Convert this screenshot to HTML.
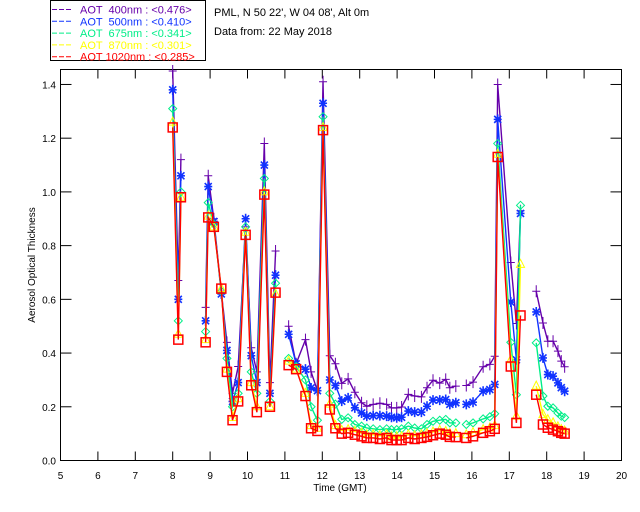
<!DOCTYPE html>
<html><head><meta charset="utf-8"><style>
body{margin:0;background:#fff;}
svg{display:block;font-family:"Liberation Sans",sans-serif;}
</style></head><body>
<svg id="chart" width="640" height="512" viewBox="0 0 640 512">
<rect width="640" height="512" fill="#fff"/>
<g id="legend">
<rect x="50.5" y="0.5" width="155" height="60" fill="#fff" stroke="#000"/>
</g>
<text x="214" y="16" font-size="11" fill="#000">PML, N 50 22', W 04 08', Alt 0m</text>
<text x="214" y="35" font-size="11" fill="#000">Data from: 22 May 2018</text>
<rect x="60.5" y="69.5" width="561" height="391" fill="none" stroke="#000"/>
<g id="axes"></g>
<g id="series"></g>
<text x="340" y="491" font-size="10" text-anchor="middle">Time (GMT)</text>
<text transform="translate(35,265) rotate(-90)" font-size="10" text-anchor="middle">Aerosol Optical Thickness</text>
</svg>
<script>
const times = [8.0,8.15,8.22,null,8.88,8.95,9.1,9.3,9.45,9.6,9.75,9.95,10.1,10.25,10.45,10.6,10.75,null,
11.1,11.3,11.55,11.7,11.87,12.02,12.2,12.35,12.52,12.69,12.87,13.05,13.19,13.36,13.54,13.72,13.85,13.99,14.12,14.30,14.47,14.65,14.80,14.96,15.14,15.30,15.41,15.57,null,
15.85,16.03,16.30,16.48,16.61,16.69,17.04,17.19,17.3,null,17.72,17.90,18.03,18.17,18.30,18.39,18.48];
const aot400 = [1.45,0.67,1.12,null,0.57,1.06,0.90,0.63,0.44,0.25,0.35,0.87,0.42,0.33,1.18,0.29,0.78,null,
0.50,0.36,0.45,0.33,0.26,1.41,0.39,0.36,0.287,0.304,0.254,0.215,0.202,0.209,0.213,0.209,0.196,0.196,0.199,0.246,0.240,0.237,0.271,0.299,0.288,0.302,0.271,0.277,null,
0.279,0.292,0.349,0.358,0.388,1.40,0.737,0.51,0.93,null,0.630,0.512,0.444,0.444,0.407,0.370,0.349];
const aot500 = [1.38,0.60,1.06,null,0.52,1.02,0.89,0.62,0.41,0.22,0.29,0.90,0.39,0.29,1.10,0.25,0.69,null,
0.47,0.36,0.34,0.27,0.26,1.33,0.30,0.28,0.221,0.233,0.196,0.177,0.165,0.167,0.167,0.165,0.161,0.159,0.161,0.184,0.180,0.180,0.202,0.225,0.225,0.227,0.209,0.215,null,
0.209,0.217,0.258,0.264,0.283,1.27,0.59,0.375,0.92,null,0.553,0.382,0.320,0.314,0.289,0.271,0.258];
const aot675 = [1.31,0.52,1.00,null,0.48,0.96,0.88,0.63,0.38,0.20,0.25,0.87,0.33,0.25,1.05,0.22,0.66,null,
0.38,0.35,0.30,0.20,0.15,1.28,0.25,0.21,0.153,0.159,0.134,0.128,0.121,0.118,0.115,0.118,0.115,0.115,0.118,0.128,0.121,0.118,0.134,0.146,0.150,0.153,0.140,0.140,null,
0.134,0.140,0.155,0.163,0.174,1.18,0.44,0.245,0.95,null,0.438,0.240,0.202,0.196,0.177,0.165,0.160];
const aot870 = [1.26,0.47,0.98,null,0.45,0.91,0.87,0.64,0.34,0.16,0.23,0.85,0.29,0.20,1.00,0.20,0.62,null,
0.37,0.34,0.25,0.13,0.12,1.24,0.21,0.13,0.112,0.115,0.108,0.102,0.096,0.096,0.092,0.096,0.088,0.088,0.088,0.096,0.092,0.096,0.100,0.106,0.112,0.108,0.100,0.100,null,
0.096,0.104,0.115,0.121,0.130,1.14,0.375,0.165,0.73,null,0.277,0.171,0.152,0.140,0.125,0.115,0.110];
const aot1020 = [1.24,0.45,0.98,null,0.44,0.905,0.87,0.64,0.33,0.15,0.22,0.84,0.28,0.18,0.99,0.20,0.625,null,
0.355,0.34,0.24,0.12,0.11,1.23,0.19,0.12,0.100,0.103,0.096,0.090,0.084,0.084,0.080,0.084,0.076,0.076,0.076,0.084,0.080,0.084,0.088,0.094,0.100,0.096,0.088,0.087,null,
0.084,0.090,0.103,0.109,0.118,1.13,0.35,0.14,0.54,null,0.245,0.134,0.122,0.115,0.109,0.103,0.100];
const xTicks = [5,6,7,8,9,10,11,12,13,14,15,16,17,18,19,20];
const yTicks = [0.0,0.2,0.4,0.6,0.8,1.0,1.2,1.4];
const legendLabels = ["AOT  400nm : <0.476>","AOT  500nm : <0.410>","AOT  675nm : <0.341>","AOT  870nm : <0.301>","AOT 1020nm : <0.285>"];

const NS="http://www.w3.org/2000/svg";
const X0=60.5,X1=621.5,Y0=460.5,YT=69.5;
function xs(h){return X0+(h-5)*(X1-X0)/15;}
function ys(v){return Y0-v*268.6;}
function mk(tag,attrs,parent){const e=document.createElementNS(NS,tag);for(const k in attrs)e.setAttribute(k,attrs[k]);parent.appendChild(e);return e;}
const axes=document.getElementById('axes');
xTicks.forEach(t=>{
  const x=xs(t);
  const a=mk('line',{x1:x,y1:Y0,x2:x,y2:Y0-9,stroke:'#000'},axes);
  
  
  const b=mk('line',{x1:x,y1:YT,x2:x,y2:YT+9,stroke:'#000'},axes);
  
  
  const l=mk('text',{x:x,y:479,'font-size':10,'text-anchor':'middle'},axes);
  l.textContent=t;
  
  
});
yTicks.forEach(t=>{
  const y=ys(t);
  const a=mk('line',{x1:X0,y1:y,x2:X0+11,y2:y,stroke:'#000'},axes);
  
  
  const b=mk('line',{x1:X1,y1:y,x2:X1-11,y2:y,stroke:'#000'},axes);
  
  
  const l=mk('text',{x:56,y:y+4,'font-size':10,'text-anchor':'end'},axes);
  l.textContent=t.toFixed(1);
  
  
});
const colors=['#6600aa','#1133ff','#00ee88','#ffff00','#ff0000'];
const seriesData=[aot400,aot500,aot675,aot870,aot1020];
const names=['aot-400nm','aot-500nm','aot-675nm','aot-870nm','aot-1020nm'];
const sg=document.getElementById('series');
function marker(i,x,y,g){
  const c=colors[i];let e;
  if(i===0){e=mk('path',{d:`M${x-4},${y}H${x+4}M${x},${y-6}V${y+6}`,stroke:c,fill:'none'},g);}
  else if(i===1){e=mk('path',{d:`M${x-4},${y}H${x+4}M${x},${y-5}V${y+5}M${x-3.5},${y-3.5}L${x+3.5},${y+3.5}M${x-3.5},${y+3.5}L${x+3.5},${y-3.5}`,stroke:c,'stroke-width':1.6,fill:'none'},g);}
  else if(i===2){e=mk('path',{d:`M${x},${y-4}L${x+4},${y}L${x},${y+4}L${x-4},${y}Z`,stroke:c,fill:'none'},g);}
  else if(i===3){e=mk('path',{d:`M${x},${y-5}L${x+4},${y+3}L${x-4},${y+3}Z`,stroke:c,fill:'none'},g);}
  else {e=mk('rect',{x:x-4.5,y:y-4.5,width:9,height:9,stroke:c,'stroke-width':1.5,fill:'none'},g);}
  
  
}
seriesData.forEach((vals,i)=>{
  const g=mk('g',{},sg);
  
  
  let d='',pen=false;
  times.forEach((t,j)=>{
    if(t===null||vals[j]===null){pen=false;return;}
    d+=(pen?'L':'M')+xs(t).toFixed(1)+','+ys(vals[j]).toFixed(1);pen=true;
  });
  const p=mk('path',{d:d,stroke:colors[i],fill:'none','stroke-width':1.4},g);
  
  
  times.forEach((t,j)=>{if(t!==null&&vals[j]!==null)marker(i,xs(t),ys(vals[j]),g);});
});
const lg=document.getElementById('legend');
legendLabels.forEach((s,i)=>{
  const y=9.5+i*11.8;
  const ln=mk('line',{x1:52,y1:y,x2:72,y2:y,stroke:colors[i],'stroke-dasharray':'5,2'},lg);
  
  
  const tx=mk('text',{x:80,y:y+4,'font-size':11,fill:colors[i]},lg);
  tx.setAttribute('style','white-space:pre');
  tx.textContent=s;
  
  
});
</script>
</body></html>
